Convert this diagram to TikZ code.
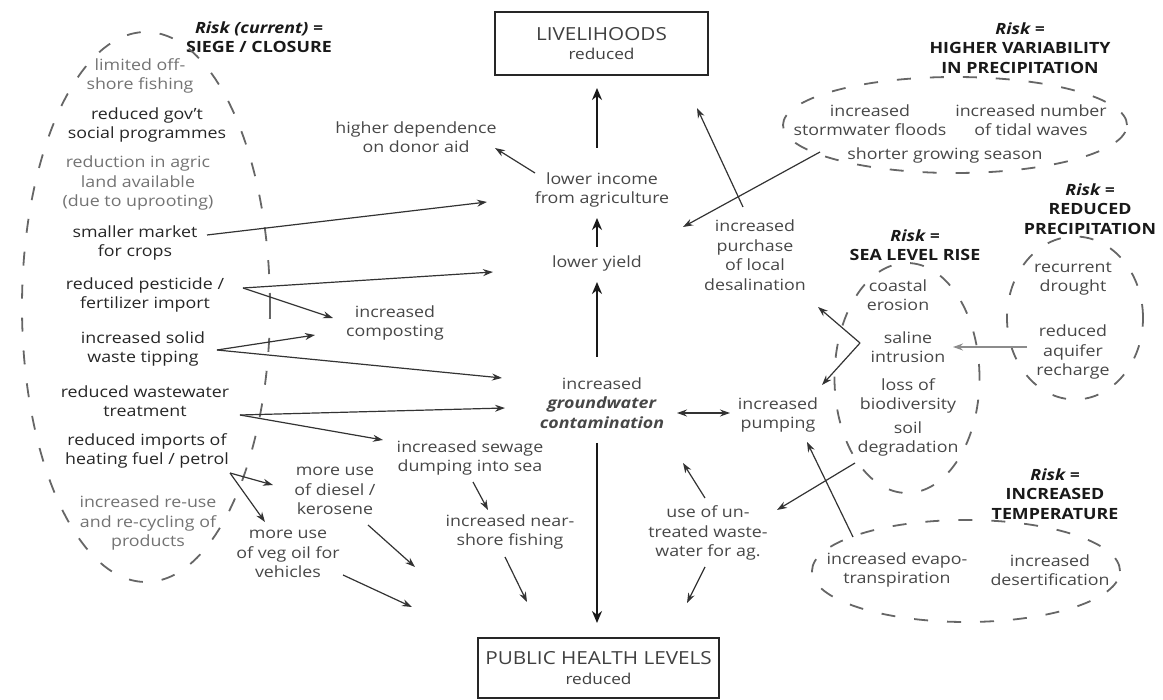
\documentclass[tikz,border=0pt]{standalone}
\usepackage{fontspec}
\setmainfont{Open Sans}[FakeStretch=1.15]
\usetikzlibrary{arrows.meta,shapes.geometric}
\begin{document}
\begin{tikzpicture}[x=1pt,y=-1pt,
  every node/.style={font=\fontsize{15.5}{19.5}\selectfont, align=center, inner sep=1pt},
  dk/.style={text=black!85},
  lg/.style={text=black!55},
  md/.style={text=black!72},
  ttl/.style={text=black!90, font=\fontsize{15.5}{19.5}\selectfont\bfseries},
  arr/.style={draw=black!80, line width=1.2pt, -{Stealth[length=10pt,width=7pt]}},
  arrboth/.style={draw=black!80, line width=1.2pt, {Stealth[length=10pt,width=7pt]}-{Stealth[length=10pt,width=7pt]}},
  mainarr/.style={draw=black!90, line width=2.4pt, -{Stealth[length=12pt,width=10pt]}},
  risk/.style={draw=black!60, line width=1.8pt, dash pattern=on 14pt off 19pt, ellipse, inner sep=0pt},
  bigbox/.style={draw=black!85, line width=2.5pt, rectangle, inner sep=0pt}
]
\useasboundingbox (0,0) rectangle (1163,700);

% boxes
\node[bigbox, minimum width=213pt, minimum height=63pt, text=black!75] (liveli) at (601.5,43.5)
  {{\fontsize{18}{21}\selectfont LIVELIHOODS}\\{\fontsize{15}{17}\selectfont reduced}};
\node[bigbox, minimum width=241pt, minimum height=60pt, text=black!75] (ph) at (598.5,668)
  {{\fontsize{18}{21}\selectfont PUBLIC HEALTH LEVELS}\\{\fontsize{15}{17}\selectfont reduced}};

% siege
\node[ttl] (siegeT) at (259,37) {{\itshape Risk (current) =}\\SIEGE / CLOSURE};
\node[risk, minimum width=248pt, minimum height=550pt] (siege) at (146,307) {};
\node[lg] (off) at (140,76) {limited off-\\shore fishing};
\node[dk] (gov) at (147,125) {reduced gov't\\social programmes};
\node[lg] (agric) at (138,183) {reduction in agric\\land available\\(due to uprooting)};
\node[dk] (market) at (135,243) {smaller market\\for crops};
\node[dk] (pest) at (145,295) {reduced pesticide /\\fertilizer import};
\node[dk] (solid) at (143,349) {increased solid\\waste tipping};
\node[dk] (wastew) at (145,401) {reduced wastewater\\treatment};
\node[dk] (fuel) at (147,451) {reduced imports of\\heating fuel / petrol};
\node[lg] (reuse) at (148,523) {increased re-use\\and re-cycling of\\products};

% centre
\node[md] (donor) at (416,137) {higher dependence\\on donor aid};
\node[md] (income) at (602,190) {lower income\\from agriculture};
\node[md] (yield) at (597,263) {lower yield};
\node[md] (gw) at (602,403) {increased\\\textbf{\textit{groundwater}}\\\textbf{\textit{contamination}}};
\node[md] (compost) at (395,323) {increased\\composting};
\node[md] (sewage) at (470,458) {increased sewage\\dumping into sea};
\node[md] (diesel) at (335,491) {more use\\of diesel /\\kerosene};
\node[md] (vegoil) at (288,554) {more use\\of veg oil for\\vehicles};
\node[md] (nearshore) at (510,532) {increased near-\\shore fishing};
\node[md] (untreated) at (708,533) {use of un-\\treated waste-\\water for ag.};
\node[md] (pumping) at (778,415) {increased\\pumping};
\node[md] (desal) at (755,255) {increased\\purchase\\of local\\desalination};

% higher variability
\node[ttl] (hvT) at (1020,48) {{\itshape Risk =}\\HIGHER VARIABILITY\\IN PRECIPITATION};
\node[risk, minimum width=344pt, minimum height=96pt] (hv) at (955,125) {};
\node[md] (storm) at (870,120) {increased\\stormwater floods};
\node[md] (tidal) at (1031,120) {increased number\\of tidal waves};
\node[md] (season) at (945,155) {shorter growing season};

% reduced precipitation
\node[ttl] (rpT) at (1090,209) {{\itshape Risk =}\\REDUCED\\PRECIPITATION};
\node[risk, minimum width=136pt, minimum height=163pt] (rp) at (1075,318) {};
\node[md] (drought) at (1073,279) {recurrent\\drought};
\node[md] (aquifer) at (1073,352) {reduced\\aquifer\\recharge};

% sea level rise
\node[ttl] (slrT) at (915,245) {{\itshape Risk =}\\SEA LEVEL RISE};
\node[risk, minimum width=145pt, minimum height=230pt] (slr) at (907,378) {};
\node[md] (coastal) at (898,295) {coastal\\erosion};
\node[md] (saline) at (908,347) {saline\\intrusion};
\node[md] (biodiv) at (908,396) {loss of\\biodiversity};
\node[md] (soil) at (908,439) {soil\\degradation};

% increased temperature
\node[ttl] (itT) at (1055,494) {{\itshape Risk =}\\INCREASED\\TEMPERATURE};
\node[risk, minimum width=308pt, minimum height=102pt] (it) at (966,571) {};
\node[md] (evapo) at (897,570) {increased evapo-\\transpiration};
\node[md] (desert) at (1050,570) {increased\\desertification};

% main vertical arrows
\draw[mainarr] ([shift={(-5,-42)}]income.center) -- ([shift={(-4.5,44.5)}]liveli.center);
\draw[mainarr] ([shift={(0,-16)}]yield.center) -- ([shift={(-5,28)}]income.center);
\draw[mainarr] ([shift={(-5,-46)}]gw.center) -- ([shift={(0,19)}]yield.center);
\draw[mainarr] ([shift={(-5,40)}]gw.center) -- ([shift={(-1.5,-45)}]ph.center);

% left arrows
\draw[arr] ([shift={(72,-8)}]market.center) -- ([shift={(-115,12)}]income.center);
\draw[arr] ([shift={(98,-7)}]pest.center) -- ([shift={(-104,9)}]yield.center);
\draw[arr] ([shift={(98,-7)}]pest.center) -- ([shift={(-62,-5)}]compost.center);
\draw[arr] ([shift={(74,1)}]solid.center) -- ([shift={(-80,12)}]compost.center);
\draw[arr] ([shift={(74,1)}]solid.center) -- ([shift={(-100,-25)}]gw.center);
\draw[arr] ([shift={(95,14)}]wastew.center) -- ([shift={(-97,5)}]gw.center);
\draw[arr] ([shift={(95,14)}]wastew.center) -- ([shift={(-87,-18)}]sewage.center);
\draw[arr] ([shift={(83,22)}]fuel.center) -- ([shift={(-62,-6)}]diesel.center);
\draw[arr] ([shift={(83,22)}]fuel.center) -- ([shift={(-23,-32)}]vegoil.center);
\draw[arr] ([shift={(33,34)}]diesel.center) -- ([shift={(-183.5,-101)}]ph.center);
\draw[arr] ([shift={(55,21)}]vegoil.center) -- ([shift={(-186.5,-61)}]ph.center);
\draw[arr] ([shift={(3,24)}]sewage.center) -- ([shift={(-22,-22)}]nearshore.center);
\draw[arr] ([shift={(-5,25)}]nearshore.center) -- ([shift={(-71.5,-66)}]ph.center);
\draw[arr] ([shift={(-67,-17)}]income.center) -- ([shift={(79,11)}]donor.center);

% right arrows
\draw[arrboth] ([shift={(75,10)}]gw.center) -- ([shift={(-48,-2)}]pumping.center);
\draw[arr] ([shift={(-12,-48)}]desal.center) -- ([shift={(95.5,64.5)}]liveli.center);
\draw[arr] ([shift={(-135,27)}]hv.center) -- ([shift={(81,37)}]income.center);
\draw[arr, draw=black!45] ([shift={(-48,29)}]rp.center) -- ([shift={(46,-31)}]slr.center);
\draw[arr] ([shift={(-47,-35)}]slr.center) -- ([shift={(63,52)}]desal.center);
\draw[arr] ([shift={(-47,-35)}]slr.center) -- ([shift={(44,-30)}]pumping.center);
\draw[arr] ([shift={(-113,-34)}]it.center) -- ([shift={(29,27)}]pumping.center);
\draw[arr] ([shift={(-52,85)}]slr.center) -- ([shift={(69,-23)}]untreated.center);
\draw[arr] ([shift={(-3,-35)}]untreated.center) -- ([shift={(81,60)}]gw.center);
\draw[arr] ([shift={(-3,34)}]untreated.center) -- ([shift={(88.5,-65)}]ph.center);
\end{tikzpicture}
\end{document}
